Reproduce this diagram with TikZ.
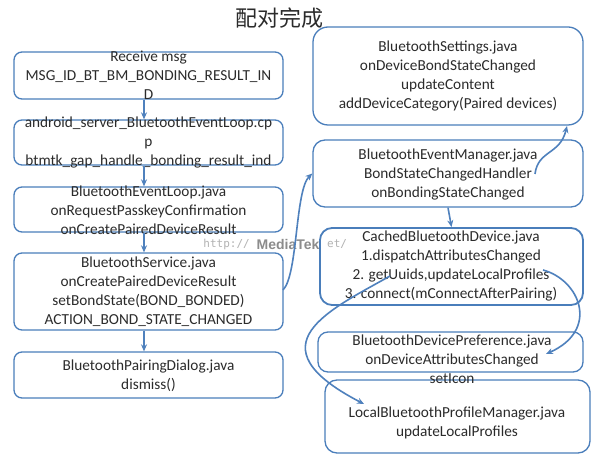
\documentclass[tikz,border=0pt]{standalone}
\usepackage{fontspec}
\setmainfont{Carlito}
\setmonofont{DejaVu Sans Mono}
\newfontfamily\cjkfont{Noto Sans CJK SC}
\newfontfamily\wmfont{Liberation Sans}
\usetikzlibrary{arrows.meta}
\definecolor{boxblue}{HTML}{4A7EBB}
\definecolor{arrblue}{HTML}{4F81BD}
\definecolor{txt}{HTML}{2B2B2B}
\begin{document}
\begin{tikzpicture}[x=1pt,y=-1pt,
  box/.style={draw=boxblue, line width=1.3pt, rounded corners=8pt, inner sep=0pt},
  lbl/.style={text=txt, align=center, font=\fontsize{15.3}{19}\selectfont, inner sep=0pt},
  arr/.style={draw=arrblue, line width=1.6pt, -{Stealth[length=7pt,width=6pt]}}]
\useasboundingbox (0,0) rectangle (600,462);
\fill[white] (0,0) rectangle (600,462);
% title
\node[text=txt, font=\cjkfont\fontsize{22}{22}\selectfont, inner sep=0pt] (title) at (279,18) {配对完成};
% left column boxes
\node[box, minimum width=269pt, minimum height=47pt] (L1) at (148.5,75.5) {};
\node[box, minimum width=269pt, minimum height=45pt] (L2) at (148.5,142.5) {};
\node[box, minimum width=269pt, minimum height=45pt] (L3) at (148.5,209.5) {};
\node[box, minimum width=269pt, minimum height=77pt] (L4) at (148.5,291.5) {};
\node[box, minimum width=269pt, minimum height=46pt] (L5) at (148.5,375) {};
% right column boxes
\node[box, rounded corners=15pt, minimum width=270pt, minimum height=98pt] (R1) at (448,76) {};
\node[box, rounded corners=12pt, minimum width=270pt, minimum height=67pt] (R2) at (448,173.5) {};
\node[box, rounded corners=12pt, line width=1.8pt, minimum width=263pt, minimum height=77pt] (R3) at (451.5,266.5) {};
\node[box, rounded corners=10pt, minimum width=265pt, minimum height=40pt] (R4) at (450.5,352) {};
\node[box, rounded corners=12pt, minimum width=265pt, minimum height=73pt] (R5) at (457.5,416.5) {};
% texts
\node[lbl] (t1) at (148.5,75.5) {Receive msg\\MSG\_ID\_BT\_BM\_BONDING\_RESULT\_IN\\D};
\node[lbl] (t2) at (148.5,143) {android\_server\_BluetoothEventLoop.cp\\p\\btmtk\_gap\_handle\_bonding\_result\_ind};
\node[lbl] (t3) at (148.5,210) {BluetoothEventLoop.java\\onRequestPasskeyConfirmation\\onCreatePairedDeviceResult};
\node[lbl] (t4) at (148.5,292) {BluetoothService.java\\onCreatePairedDeviceResult\\setBondState(BOND\_BONDED)\\ACTION\_BOND\_STATE\_CHANGED};
\node[lbl] (t5) at (148.5,375.5) {BluetoothPairingDialog.java\\dismiss()};
\node[lbl] (t6) at (448,76) {BluetoothSettings.java\\onDeviceBondStateChanged\\updateContent\\addDeviceCategory(Paired devices)};
\node[lbl] (t7) at (448,174.5) {BluetoothEventManager.java\\BondStateChangedHandler\\onBondingStateChanged};
\node[lbl] (t8) at (451,266) {CachedBluetoothDevice.java\\1.dispatchAttributesChanged\\2. getUuids,updateLocalProfiles\\3. connect(mConnectAfterPairing)};
\node[lbl] (t9) at (452,359) {BluetoothDevicePreference.java\\onDeviceAttributesChanged\\setIcon};
\node[lbl] (t10) at (457,423) {LocalBluetoothProfileManager.java\\updateLocalProfiles};
% watermark
\node[text=black!30, font=\ttfamily\fontsize{11}{11}\selectfont, inner sep=0pt, anchor=east] (wm1) at (250,244) {http://};
\node[text=black!45, font=\wmfont\bfseries\fontsize{14}{14}\selectfont, inner sep=0pt] (wm2) at (288,244) {MediaTek};
\node[text=black!30, font=\ttfamily\fontsize{11}{11}\selectfont, inner sep=0pt, anchor=west] (wm3) at (327,244) {et/};
% arrows left column
\draw[arr] ([xshift=-4.5pt]L1.south) -- ([xshift=-4.5pt]L2.north);
\draw[arr] ([xshift=-4.5pt]L2.south) -- ([xshift=-4.5pt]L3.north);
\draw[arr] ([xshift=-4.5pt]L3.south) -- ([xshift=-4.5pt]L4.north);
\draw[arr] ([xshift=-4.5pt]L4.south) -- ([xshift=-4.5pt]L5.north);
% right column arrows
\draw[arr] (R2.south) -- (R3.north);
\coordinate (a5s) at (283,290);
\draw[arr] (a5s) .. controls (298,275) and (295,190) .. (R2.west);
\coordinate (a6s) at (535,174);
\coordinate (a6e) at (567,126);
\draw[arr] (a6s) .. controls (538,150) and (560,155) .. (a6e);
\coordinate (a8s) at (543,270);
\coordinate (a8e) at (546,354);
\draw[arr] (a8s) .. controls (580,280) and (600,330) .. (a8e);
\coordinate (a9s) at (390,276);
\coordinate (a9e) at (364,404);
\draw[arr] (a9s) .. controls (330,310) and (250,345) .. (a9e);
\end{tikzpicture}
\end{document}
